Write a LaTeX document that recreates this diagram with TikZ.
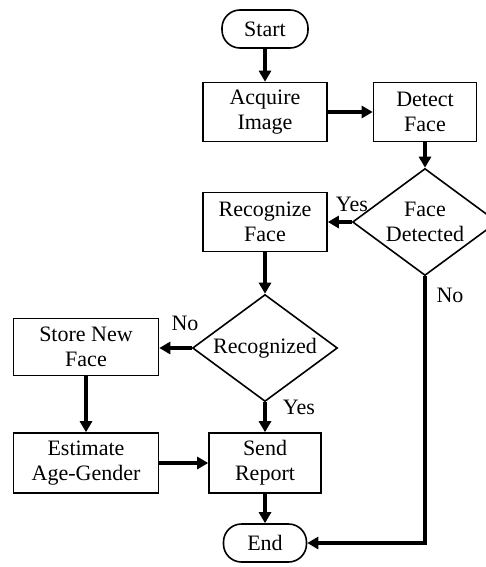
\documentclass[tikz,border=0pt]{standalone}
\usepackage{fontspec}
\setmainfont{Liberation Serif}
\usetikzlibrary{shapes.geometric,arrows.meta}
\begin{document}
\begin{tikzpicture}[x=1pt,y=-1pt,
  box/.style={draw,line width=1.6pt,align=center,font=\fontsize{22}{25}\selectfont,inner sep=0pt},
  proc/.style={box,minimum width=124pt,minimum height=59pt},
  term/.style={box,rounded corners=18pt,minimum width=86pt,minimum height=38pt},
  dec/.style={box,diamond,minimum width=145pt,minimum height=107pt,shape aspect=1.36},
  flow/.style={line width=3.3pt,-{Triangle[length=11pt,width=12pt]}},
  lbl/.style={font=\fontsize{22}{25}\selectfont,inner sep=0pt}]
\useasboundingbox (0,0) rectangle (486,567);
\node[term] (start) at (265,29) {Start};
\node[proc] (acq) at (265,112) {Acquire\\Image};
\node[proc, minimum width=103pt] (det) at (425,112) {Detect\\Face};
\node[dec] (fd) at (425,222) {Face\\Detected};
\node[proc] (rec) at (265,222) {Recognize\\Face};
\node[dec] (rz) at (265,348) {Recognized};
\node[proc, minimum width=145pt, minimum height=57pt] (store) at (86,347) {Store New\\Face};
\node[proc, minimum width=145pt, minimum height=60pt] (est) at (86,463) {Estimate\\Age-Gender};
\node[proc, minimum width=112pt, minimum height=60pt] (send) at (265,463) {Send\\Report};
\node[term, minimum width=83pt] (end) at (265,543) {End};
\coordinate (corner) at (425,543);
\draw[flow] (start) -- (acq);
\draw[flow] (acq) -- (det);
\draw[flow] (det) -- (fd);
\draw[flow] (fd.west) -- (rec.east);
\draw[flow] (rec) -- (rz);
\draw[flow] (rz.west) -- (store.east |- rz.west);
\draw[flow] (store) -- (est);
\draw[flow] (rz.south) -- (send.north);
\draw[flow] (est) -- (send);
\draw[flow] (send) -- (end);
\draw[flow] (fd.south) -- (corner) -- (end.east);
\node[lbl] (yes1) at (352,204) {Yes};
\node[lbl] (no1) at (185,323) {No};
\node[lbl] (yes2) at (299,407) {Yes};
\node[lbl] (no2) at (450,295) {No};
\end{tikzpicture}
\end{document}
